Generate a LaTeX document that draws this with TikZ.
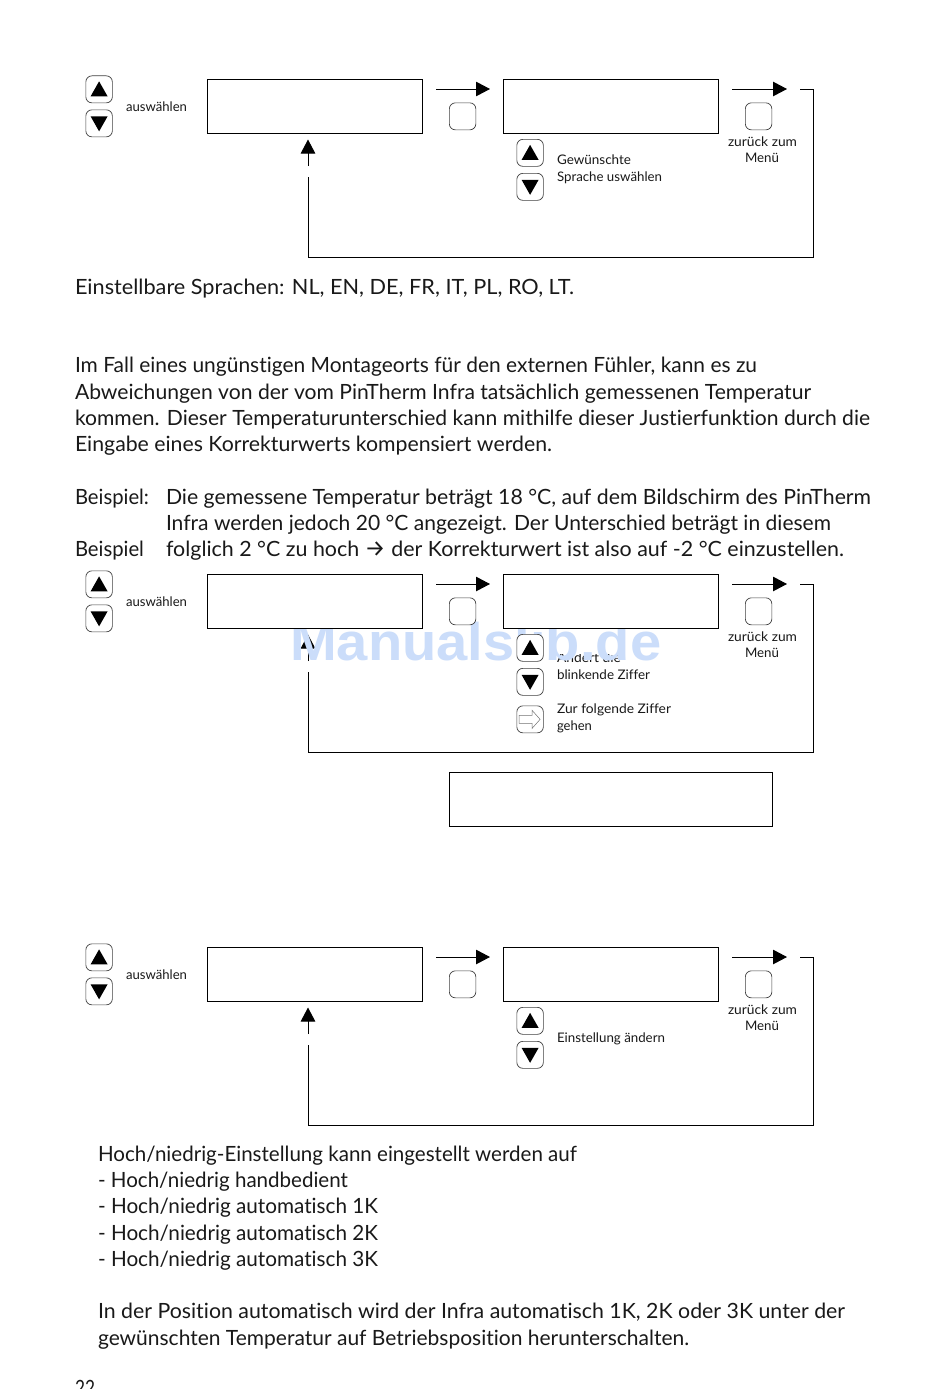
\documentclass[tikz,border=0pt]{standalone}
\usepackage{graphicx}
\usepackage{fontspec}
\setmainfont{Lato}[RawFeature={-liga;-dlig;-clig}]
\newfontfamily\symfont{Fira Sans}
\newfontfamily\markfont{Liberation Sans}
\usetikzlibrary{arrows.meta,calc}
\tikzset{
  x=1pt,y=-1pt,
  txt/.style={anchor=base west,inner sep=0pt,outer sep=0pt,text=black!90},
  lcdbox/.style={draw=black,line width=1pt,fill=white,minimum width=215pt,minimum height=54pt,inner sep=0pt,anchor=north west},
  keybox/.style={draw=black!75,line width=.7pt,rounded corners=6pt,fill=white,minimum width=26.5pt,minimum height=27pt,inner sep=0pt,anchor=north west},
  conn/.style={draw=black,line width=1pt},
  arr/.style={draw=black,line width=1pt,-{Triangle[length=14pt,width=14.5pt]}},
  tri/.style={fill=black,draw=none},
}
% body text, horizontally fitted: x, baseline, width, text
\newcommand{\bodyline}[5]{\node[txt,font=\fontsize{21}{21}\selectfont] (#1) at (#2,#3) {\resizebox{#4pt}{\height}{#5}};}
\newcommand{\smallline}[5]{\node[txt,font=\fontsize{13.2}{13.2}\selectfont] (#1) at (#2,#3) {\resizebox{#4pt}{\height}{#5}};}
\newcommand{\upkey}[3]{% name, x, y (top-left)
  \node[keybox] (#1) at (#2,#3) {};
  \fill[tri] ($(#1.center)+(-8.5,7)$) -- ($(#1.center)+(8.5,7)$) -- ($(#1.center)+(0,-8)$) -- cycle;}
\newcommand{\downkey}[3]{%
  \node[keybox] (#1) at (#2,#3) {};
  \fill[tri] ($(#1.center)+(-8.5,-7)$) -- ($(#1.center)+(8.5,-7)$) -- ($(#1.center)+(0,8)$) -- cycle;}
% prefix, y offset
\newcommand{\panel}[2]{%
  \begin{scope}[shift={(0,#2)}]
    \upkey{#1up}{85.5}{75.5}
    \downkey{#1dn}{85.5}{109.5}
    \smallline{#1sel}{126}{111}{61}{auswählen}
    \node[lcdbox] (#1a) at (207,79) {};
    \node[lcdbox] (#1b) at (503,79) {};
    \coordinate (#1s1) at (436,89);
    \coordinate (#1e1) at (490,89);
    \coordinate (#1s2) at (732,89);
    \coordinate (#1e2) at (787,89);
    \draw[arr] (#1s1) -- (#1e1);
    \draw[arr] (#1s2) -- (#1e2);
    \node[keybox] (#1k1) at (449,102.5) {};
    \node[keybox] (#1k2) at (745,102.5) {};
    \upkey{#1upb}{516.5}{139}
    \downkey{#1dnb}{516.5}{173}
    \smallline{#1zu}{728}{146}{69}{zurück zum}
    \smallline{#1me}{745}{162.5}{34}{Menü}
    \coordinate (#1r0) at (800,89.5);
    \coordinate (#1r1) at (813.5,89.5);
    \coordinate (#1r2) at (813.5,257.5);
    \coordinate (#1r3) at (308.5,257.5);
    \coordinate (#1r4) at (308.5,177);
    \draw[conn] (#1r0) -- (#1r1) -- (#1r2) -- (#1r3) -- (#1r4);
  \end{scope}}
\newcommand{\backarrow}[2]{%
  \coordinate (#1r5) at (308,#2+166);
  \coordinate (#1r6) at (308,#2+139.5);
  \draw[arr] (#1r5) -- (#1r6);}
\begin{document}
\begin{tikzpicture}
\useasboundingbox[fill=white] (0,0) rectangle (950,1389);

% panel two pieces that lie under the watermark
\begin{scope}
  \clip (550,654.5) rectangle (640,670);
  \smallline{aendert}{557}{662}{64}{Ändert die}
\end{scope}
\backarrow{q}{495}
\node[anchor=base west,inner sep=0pt,text={rgb,255:red,203;green,221;blue,250},font=\markfont\bfseries\fontsize{53}{53}\selectfont] (wm) at (290,660) {\resizebox{371pt}{\height}{Manualslib.de}};

\panel{p}{0}
\backarrow{p}{0}
\panel{q}{495}
\panel{r}{868}
\backarrow{r}{868}

% panel 1 labels
\smallline{gew}{557}{164}{74}{Gewünschte}
\smallline{spr}{557}{181}{105}{Sprache uswählen}

% panel 2 labels and key
\smallline{blink}{557}{679}{93}{blinkende Ziffer}
\smallline{zur}{557}{713}{114}{Zur folgende Ziffer}
\smallline{geh}{557}{730}{35}{gehen}
\node[keybox] (nextkey) at (516.5,705.5) {};
\draw[draw=black!55,line width=.5pt,fill=white]
  ($(nextkey.center)+(-11,-4)$) -- ($(nextkey.center)+(2,-4)$) -- ($(nextkey.center)+(2,-9)$)
  -- ($(nextkey.center)+(10,0)$) -- ($(nextkey.center)+(2,9)$) -- ($(nextkey.center)+(2,4)$)
  -- ($(nextkey.center)+(-11,4)$) -- cycle;
\node[draw=black,line width=1pt,fill=white,minimum width=323pt,minimum height=54pt,inner sep=0pt,anchor=north west] (wide) at (449,772) {};

% panel 3 label
\smallline{eins}{557}{1042}{108}{Einstellung ändern}

% body text
\bodyline{t1}{75}{294}{499}{Einstellbare Sprachen: NL, EN, DE, FR, IT, PL, RO, LT.}
\bodyline{t2}{75}{372}{682}{Im Fall eines ungünstigen Montageorts für den externen Fühler, kann es zu}
\bodyline{t3}{75}{399}{736}{Abweichungen von der vom PinT\kern0pt herm Infra tatsächlich gemessenen Temperatur}
\bodyline{t4}{75}{425}{795}{kommen. Dieser Temperaturunterschied kann mithilfe dieser Justierfunktion durch die}
\bodyline{t5}{75}{451}{477}{Eingabe eines Korrekturwerts kompensiert werden.}
\bodyline{t6}{75}{504}{74}{Beispiel:}
\bodyline{t7}{166}{504}{705}{Die gemessene Temperatur beträgt 18 °C, auf dem Bildschirm des PinT\kern0pt herm}
\bodyline{t8}{166}{530}{665}{Infra werden jedoch 20 °C angezeigt. Der Unterschied beträgt in diesem}
\bodyline{t9}{75}{556}{69}{Beispiel}
\bodyline{t10}{166}{556}{678}{folglich 2 °C zu hoch {\symfont\fontsize{23}{23}\selectfont →} der Korrekturwert ist also auf -2 °C einzustellen.}
\bodyline{t11}{98}{1161}{479}{Hoch/niedrig-Einstellung kann eingestellt werden auf}
\bodyline{t12}{98}{1187}{250}{- Hoch/niedrig handbedient}
\bodyline{t13}{98}{1213}{280}{- Hoch/niedrig automatisch 1K}
\bodyline{t14}{98}{1240}{280}{- Hoch/niedrig automatisch 2K}
\bodyline{t15}{98}{1266}{280}{- Hoch/niedrig automatisch 3K}
\bodyline{t16}{98}{1318}{747}{In der Position automatisch wird der Infra automatisch 1K, 2K oder 3K unter der}
\bodyline{t17}{98}{1345}{591}{gewünschten Temperatur auf Betriebsposition herunterschalten.}
\bodyline{t18}{75}{1395}{20}{22}
\end{tikzpicture}
\end{document}
